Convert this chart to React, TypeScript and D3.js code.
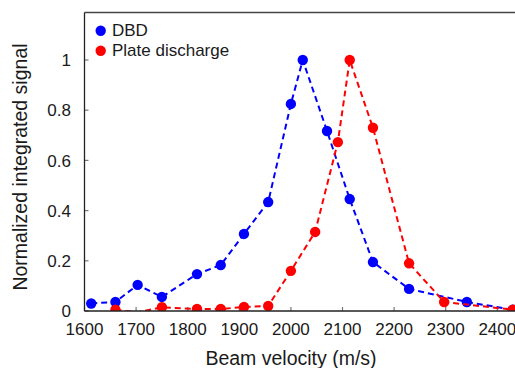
import React from "react";
import * as d3 from "d3";

const dbdX = [1613, 1660, 1703, 1750, 1818, 1864, 1909, 1956, 2000, 2023, 2070, 2114, 2159, 2229, 2341, 2430];
const dbdY = [0.03, 0.036, 0.104, 0.056, 0.147, 0.183, 0.307, 0.434, 0.825, 1.0, 0.717, 0.446, 0.195, 0.088, 0.036, 0.005];
const plateX = [1660, 1703, 1750, 1818, 1864, 1909, 1956, 2000, 2047, 2091, 2114, 2159, 2229, 2297, 2430];
const plateY = [0.005, -0.005, 0.015, 0.008, 0.008, 0.016, 0.02, 0.16, 0.315, 0.673, 1.0, 0.73, 0.19, 0.036, 0.005];
const xTicks = [1600, 1700, 1800, 1900, 2000, 2100, 2200, 2300, 2400];
const yTicks = [0, 0.2, 0.4, 0.6, 0.8, 1];
const yTickLabels = ["0", "0.2", "0.4", "0.6", "0.8", "1"];
const seriesNames = ["DBD", "Plate discharge"];
const seriesColors = ["#0000ff", "#ff0000"];

const W = 515;
const H = 368;
const FONT = "'Liberation Sans', Arial, Helvetica, sans-serif";

export default function App() {
  const left = 84.5;
  const top = 12.5;
  const bottom = 311;
  const x = d3.scaleLinear().domain([1600, 2450]).range([left, left + 0.516 * 850]);
  const y = d3.scaleLinear().domain([0, 1.19]).range([bottom, bottom - 251 * 1.19]);
  const line = d3
    .line<[number, number]>()
    .x((d) => x(d[0]))
    .y((d) => y(d[1]));

  const series = [
    { xs: dbdX, ys: dbdY },
    { xs: plateX, ys: plateY },
  ];

  return (
    <svg
      width={W}
      height={H}
      style={{ position: "absolute", left: 0, top: 0, background: "#fff" }}
      fontFamily={FONT}
    >
      <defs>
        <clipPath id="plotclip">
          <rect x={left} y={top} width={W} height={bottom - top} />
        </clipPath>
      </defs>
      {xTicks.map((t) => (
        <g key={"xt" + t}>
          <line x1={x(t)} x2={x(t)} y1={bottom} y2={bottom - 4} stroke="#777" strokeWidth={1.2} />
          <text x={x(t)} y={335} textAnchor="middle" fontSize={17} fill="#1a1a1a">
            {t}
          </text>
        </g>
      ))}
      {yTicks.map((t, i) => (
        <g key={"yt" + t}>
          <line x1={left} x2={left + 4} y1={y(t)} y2={y(t)} stroke="#777" strokeWidth={1.2} />
          <text x={71} y={y(t)} dy="0.36em" textAnchor="end" fontSize={17} fill="#1a1a1a">
            {yTickLabels[i]}
          </text>
        </g>
      ))}
      <g clipPath="url(#plotclip)">
        {series.map((s, si) => {
          const pts: [number, number][] = s.xs.map((v, i) => [v, s.ys[i]]);
          return (
            <g key={"s" + si}>
              <path
                d={line(pts) || ""}
                fill="none"
                stroke={seriesColors[si]}
                strokeWidth={2}
                strokeDasharray="6,4"
              />
              {pts
                .filter((p) => p[1] >= 0)
                .map((p, i) => (
                  <circle key={i} cx={x(p[0])} cy={y(p[1])} r={5.2} fill={seriesColors[si]} />
                ))}
            </g>
          );
        })}
      </g>
      <line x1={left} x2={W} y1={top} y2={top} stroke="#444" strokeWidth={1.3} />
      <line x1={left} x2={left} y1={top} y2={bottom} stroke="#222" strokeWidth={1.3} />
      <line x1={left} x2={W} y1={bottom} y2={bottom} stroke="#222" strokeWidth={1.3} />
      {seriesNames.map((n, i) => (
        <g key={"lg" + i}>
          <circle cx={100.7} cy={30.7 + i * 20} r={5.2} fill={seriesColors[i]} />
          <text x={112} y={35.8 + i * 20} fontSize={17} fill="#1a1a1a">
            {n}
          </text>
        </g>
      ))}
      <text x={291} y={365} textAnchor="middle" fontSize={19.5} fill="#1a1a1a">
        Beam velocity (m/s)
      </text>
      <text
        transform={`translate(27,167) rotate(-90)`}
        textAnchor="middle"
        fontSize={19.5}
        fill="#1a1a1a"
      >
        Normalized integrated signal
      </text>
    </svg>
  );
}
